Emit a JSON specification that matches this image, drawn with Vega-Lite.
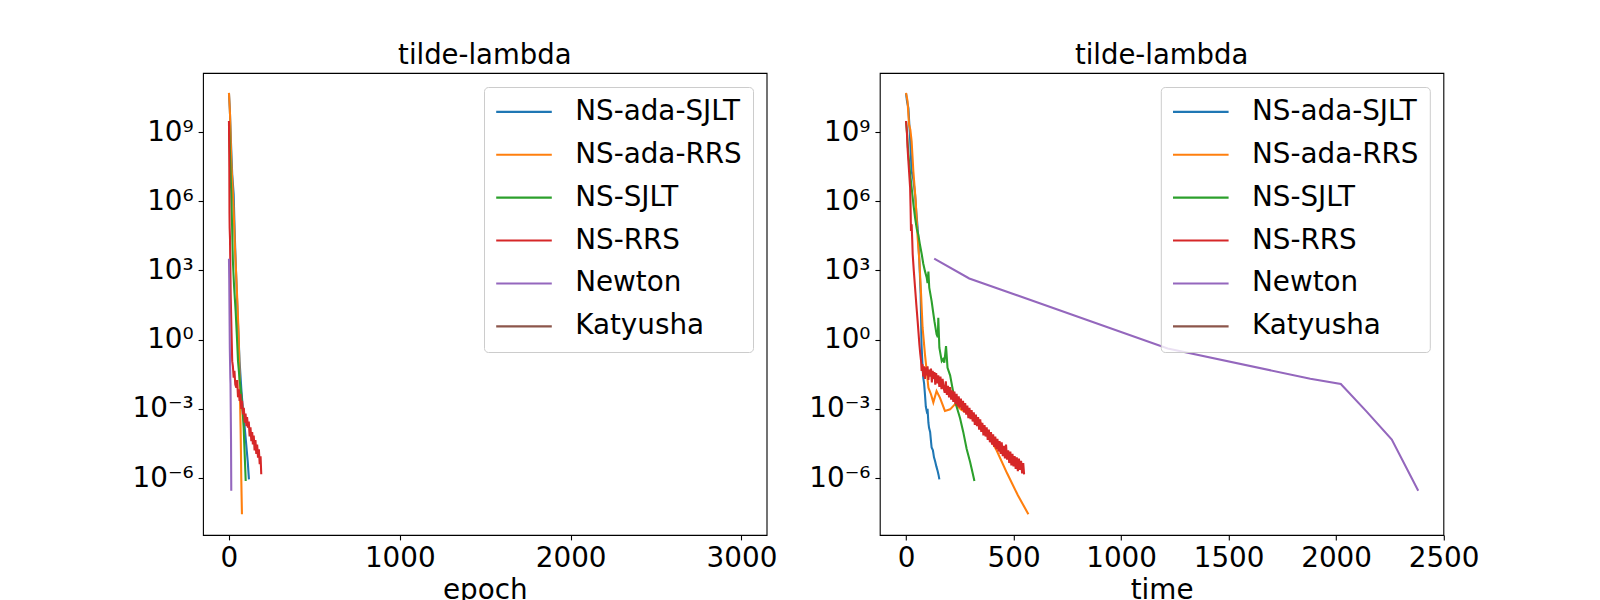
{
  "$schema": "https://vega.github.io/schema/vega-lite/v6.json",
  "padding": {"left": 131, "top": 41, "right": 0, "bottom": 0},
  "background": "white",
  "bounds": "flush",
  "spacing": 112.8,
  "config": {
    "font": "DejaVu Sans",
    "view": {"stroke": "black", "strokeWidth": 1.1},
    "axis": {
      "labelFont": "DejaVu Sans", "labelFontSize": 27.8, "labelColor": "black",
      "tickColor": "black", "tickSize": 4.9, "tickWidth": 1.1, "labelPadding": 4.9,
      "domain": false, "grid": false, "labelOverlap": false, "labelFlush": false,
      "titleFont": "DejaVu Sans", "titleFontSize": 27.8, "titleFontWeight": "normal", "titleColor": "black", "titlePadding": 4
    },
    "title": {"font": "DejaVu Sans", "fontSize": 27.5, "fontWeight": "normal", "color": "black", "offset": 3.3, "anchor": "middle"},
    "legend": {
      "orient": "top-right", "offset": 13.9, "labelFont": "DejaVu Sans", "labelFontSize": 27.8, "labelColor": "black",
      "symbolType": "stroke", "symbolSize": 3091, "symbolStrokeWidth": 2.08, "labelOffset": 22.2, "rowPadding": 13.9, "clipHeight": 27.7,
      "padding": 11, "fillColor": "rgba(255,255,255,0.8)", "strokeColor": "#cccccc", "cornerRadius": 4, "labelLimit": 400
    }
  },
  "datasets": {
    "epoch": [
      {"m":"NS-ada-SJLT","x":0,"y":4.79e10},{"m":"NS-ada-SJLT","x":5,"y":1e10},{"m":"NS-ada-SJLT","x":12,"y":3.16e8},{"m":"NS-ada-SJLT","x":19,"y":1.48e7},{"m":"NS-ada-SJLT","x":27.5,"y":2.0e6},{"m":"NS-ada-SJLT","x":33,"y":6.31e4},{"m":"NS-ada-SJLT","x":39,"y":2570},{"m":"NS-ada-SJLT","x":50,"y":15.8},{"m":"NS-ada-SJLT","x":62,"y":0.117},{"m":"NS-ada-SJLT","x":72,"y":0.00794},{"m":"NS-ada-SJLT","x":82,"y":8.13e-4},{"m":"NS-ada-SJLT","x":92,"y":1.58e-4},{"m":"NS-ada-SJLT","x":101,"y":2.88e-5},{"m":"NS-ada-SJLT","x":110,"y":5.01e-6},{"m":"NS-ada-SJLT","x":117,"y":8.71e-7},
      {"m":"NS-ada-RRS","x":0,"y":5.01e10},{"m":"NS-ada-RRS","x":6,"y":6.31e9},{"m":"NS-ada-RRS","x":13.6,"y":5.5e7},{"m":"NS-ada-RRS","x":20,"y":6.31e6},{"m":"NS-ada-RRS","x":27.5,"y":3.8e5},{"m":"NS-ada-RRS","x":35,"y":1e4},{"m":"NS-ada-RRS","x":43,"y":490},{"m":"NS-ada-RRS","x":50,"y":31.6},{"m":"NS-ada-RRS","x":55,"y":3.31},{"m":"NS-ada-RRS","x":60,"y":0.158},{"m":"NS-ada-RRS","x":62,"y":0.0224},{"m":"NS-ada-RRS","x":65,"y":0.002},{"m":"NS-ada-RRS","x":68,"y":1.51e-4},{"m":"NS-ada-RRS","x":70,"y":1.58e-5},{"m":"NS-ada-RRS","x":72,"y":1.02e-6},{"m":"NS-ada-RRS","x":74,"y":1.58e-7},{"m":"NS-ada-RRS","x":76,"y":2.69e-8},
      {"m":"NS-SJLT","x":0,"y":3.02e9},{"m":"NS-SJLT","x":7,"y":6.31e7},{"m":"NS-SJLT","x":13.6,"y":2.0e6},{"m":"NS-SJLT","x":18,"y":1e5},{"m":"NS-SJLT","x":23,"y":2570},{"m":"NS-SJLT","x":30,"y":200},{"m":"NS-SJLT","x":39,"y":17.4},{"m":"NS-SJLT","x":46,"y":1.58},{"m":"NS-SJLT","x":53,"y":0.117},{"m":"NS-SJLT","x":62,"y":0.02},{"m":"NS-SJLT","x":72,"y":0.00427},{"m":"NS-SJLT","x":80,"y":7.94e-4},{"m":"NS-SJLT","x":86,"y":1.51e-4},{"m":"NS-SJLT","x":92,"y":1.07e-5},{"m":"NS-SJLT","x":98,"y":7.41e-7},
      {"m":"NS-RRS","x":0,"y":3.02e9},{"m":"NS-RRS","x":2,"y":3.16e7},{"m":"NS-RRS","x":3,"y":3.16e5},{"m":"NS-RRS","x":4,"y":7.08e4},{"m":"NS-RRS","x":6,"y":2.51e4},{"m":"NS-RRS","x":10,"y":91.2},{"m":"NS-RRS","x":15,"y":2.0},{"m":"NS-RRS","x":19,"y":0.117},{"m":"NS-RRS","x":23,"y":0.0701},{"m":"NS-RRS","x":27.5,"y":0.0224},{"m":"NS-RRS","x":32,"y":0.0442},{"m":"NS-RRS","x":37,"y":0.0112},{"m":"NS-RRS","x":43,"y":0.00832},{"m":"NS-RRS","x":48,"y":0.0176},{"m":"NS-RRS","x":53,"y":0.00316},{"m":"NS-RRS","x":58,"y":0.00701},{"m":"NS-RRS","x":62,"y":0.00219},{"m":"NS-RRS","x":67,"y":0.00442},{"m":"NS-RRS","x":72,"y":0.001},{"m":"NS-RRS","x":77,"y":0.00221},{"m":"NS-RRS","x":82,"y":5.75e-4},{"m":"NS-RRS","x":87,"y":0.00111},{"m":"NS-RRS","x":92,"y":2.51e-4},{"m":"NS-RRS","x":97,"y":6.26e-4},{"m":"NS-RRS","x":102,"y":1.78e-4},{"m":"NS-RRS","x":106,"y":4.42e-4},{"m":"NS-RRS","x":111,"y":1.51e-4},{"m":"NS-RRS","x":116,"y":2.8e-4},{"m":"NS-RRS","x":121,"y":6.31e-5},{"m":"NS-RRS","x":126,"y":1.57e-4},{"m":"NS-RRS","x":131,"y":3.98e-5},{"m":"NS-RRS","x":136,"y":9.91e-5},{"m":"NS-RRS","x":140,"y":2.88e-5},{"m":"NS-RRS","x":145,"y":7.01e-5},{"m":"NS-RRS","x":150,"y":1.58e-5},{"m":"NS-RRS","x":155,"y":4.42e-5},{"m":"NS-RRS","x":160,"y":1.12e-5},{"m":"NS-RRS","x":165,"y":2.8e-5},{"m":"NS-RRS","x":170,"y":7.59e-6},{"m":"NS-RRS","x":175,"y":1.76e-5},{"m":"NS-RRS","x":180,"y":3.98e-6},{"m":"NS-RRS","x":185,"y":8.83e-6},{"m":"NS-RRS","x":189,"y":1.45e-6},
      {"m":"Newton","x":0,"y":3240},{"m":"Newton","x":1.5,"y":447},{"m":"Newton","x":5,"y":0.417},{"m":"Newton","x":8,"y":0.02},{"m":"Newton","x":9,"y":0.012},{"m":"Newton","x":10.5,"y":7.94e-4},{"m":"Newton","x":12,"y":4.68e-5},{"m":"Newton","x":13.5,"y":2.82e-7}
    ],
    "time": [
      {"m":"NS-ada-SJLT","x":0,"y":4.79e10},{"m":"NS-ada-SJLT","x":5,"y":2.0e10},{"m":"NS-ada-SJLT","x":11,"y":1.12e10},{"m":"NS-ada-SJLT","x":18,"y":7.94e8},{"m":"NS-ada-SJLT","x":26,"y":2.04e7},{"m":"NS-ada-SJLT","x":33,"y":1.0e7},{"m":"NS-ada-SJLT","x":42,"y":2.0e6},{"m":"NS-ada-SJLT","x":48,"y":3.16e5},{"m":"NS-ada-SJLT","x":54,"y":7.08e4},{"m":"NS-ada-SJLT","x":58,"y":1.26e4},{"m":"NS-ada-SJLT","x":62,"y":2570},{"m":"NS-ada-SJLT","x":68,"y":91.2},{"m":"NS-ada-SJLT","x":72,"y":0.631},{"m":"NS-ada-SJLT","x":76,"y":0.1},{"m":"NS-ada-SJLT","x":80,"y":0.0224},{"m":"NS-ada-SJLT","x":84,"y":0.0126},{"m":"NS-ada-SJLT","x":88,"y":0.00427},{"m":"NS-ada-SJLT","x":92,"y":0.00126},{"m":"NS-ada-SJLT","x":96,"y":8.1e-4},{"m":"NS-ada-SJLT","x":100,"y":1.0e-3},{"m":"NS-ada-SJLT","x":104,"y":2.5e-4},{"m":"NS-ada-SJLT","x":107,"y":1.5e-4},{"m":"NS-ada-SJLT","x":112,"y":1.0e-4},{"m":"NS-ada-SJLT","x":116,"y":4.0e-5},{"m":"NS-ada-SJLT","x":119,"y":2.1e-5},{"m":"NS-ada-SJLT","x":125,"y":1.6e-5},{"m":"NS-ada-SJLT","x":130,"y":7.9e-6},{"m":"NS-ada-SJLT","x":135,"y":5.5e-6},{"m":"NS-ada-SJLT","x":141,"y":3.2e-6},{"m":"NS-ada-SJLT","x":147,"y":2.0e-6},{"m":"NS-ada-SJLT","x":151,"y":1.4e-6},{"m":"NS-ada-SJLT","x":155,"y":8.7e-7},
      {"m":"NS-ada-RRS","x":0,"y":5.01e10},{"m":"NS-ada-RRS","x":7,"y":2.2e10},{"m":"NS-ada-RRS","x":14,"y":2.1e9},{"m":"NS-ada-RRS","x":20,"y":1.26e9},{"m":"NS-ada-RRS","x":26,"y":4.0e8},{"m":"NS-ada-RRS","x":34,"y":2.0e7},{"m":"NS-ada-RRS","x":45,"y":1.0e6},{"m":"NS-ada-RRS","x":54,"y":2.6e4},{"m":"NS-ada-RRS","x":62,"y":2600},{"m":"NS-ada-RRS","x":70,"y":91},{"m":"NS-ada-RRS","x":77,"y":3.3},{"m":"NS-ada-RRS","x":82,"y":1.0},{"m":"NS-ada-RRS","x":88,"y":0.23},{"m":"NS-ada-RRS","x":96,"y":0.044},{"m":"NS-ada-RRS","x":104,"y":0.0083},{"m":"NS-ada-RRS","x":116,"y":0.0043},{"m":"NS-ada-RRS","x":127,"y":0.0019},{"m":"NS-ada-RRS","x":142,"y":0.0059},{"m":"NS-ada-RRS","x":158,"y":0.003},{"m":"NS-ada-RRS","x":181,"y":8.1e-4},{"m":"NS-ada-RRS","x":205,"y":9.5e-4},{"m":"NS-ada-RRS","x":228,"y":1.6e-3},{"m":"NS-ada-RRS","x":258,"y":8.9e-4},{"m":"NS-ada-RRS","x":290,"y":6.3e-4},{"m":"NS-ada-RRS","x":336,"y":3.5e-4},{"m":"NS-ada-RRS","x":380,"y":7.9e-5},{"m":"NS-ada-RRS","x":421,"y":1.6e-5},{"m":"NS-ada-RRS","x":470,"y":1.6e-6},{"m":"NS-ada-RRS","x":520,"y":1.8e-7},{"m":"NS-ada-RRS","x":569,"y":2.7e-8},
      {"m":"NS-SJLT","x":0,"y":3.02e9},{"m":"NS-SJLT","x":5,"y":7.94e8},{"m":"NS-SJLT","x":11,"y":1.07e8},{"m":"NS-SJLT","x":18,"y":2.0e7},{"m":"NS-SJLT","x":26,"y":3.89e6},{"m":"NS-SJLT","x":34,"y":7.94e5},{"m":"NS-SJLT","x":42,"y":1.95e5},{"m":"NS-SJLT","x":50,"y":6.31e4},{"m":"NS-SJLT","x":57,"y":3.63e4},{"m":"NS-SJLT","x":65,"y":1.26e4},{"m":"NS-SJLT","x":73,"y":5010},{"m":"NS-SJLT","x":80,"y":2000},{"m":"NS-SJLT","x":88,"y":933},{"m":"NS-SJLT","x":96,"y":501},{"m":"NS-SJLT","x":100,"y":282},{"m":"NS-SJLT","x":104,"y":891},{"m":"NS-SJLT","x":108,"y":178},{"m":"NS-SJLT","x":119,"y":46.8},{"m":"NS-SJLT","x":126,"y":15.8},{"m":"NS-SJLT","x":132,"y":6.31},{"m":"NS-SJLT","x":142,"y":1.7},{"m":"NS-SJLT","x":148,"y":1.26},{"m":"NS-SJLT","x":150,"y":8.91},{"m":"NS-SJLT","x":155,"y":0.447},{"m":"NS-SJLT","x":166,"y":0.117},{"m":"NS-SJLT","x":172,"y":0.141},{"m":"NS-SJLT","x":178,"y":0.1},{"m":"NS-SJLT","x":186,"y":0.525},{"m":"NS-SJLT","x":193,"y":0.0603},{"m":"NS-SJLT","x":205,"y":0.0282},{"m":"NS-SJLT","x":220,"y":0.005},{"m":"NS-SJLT","x":235,"y":0.00126},{"m":"NS-SJLT","x":251,"y":4.0e-4},{"m":"NS-SJLT","x":266,"y":1.0e-4},{"m":"NS-SJLT","x":282,"y":1.8e-5},{"m":"NS-SJLT","x":298,"y":5.0e-6},{"m":"NS-SJLT","x":310,"y":1.6e-6},{"m":"NS-SJLT","x":318,"y":7.4e-7},
      {"m":"NS-RRS","x":0,"y":3.02e9},{"m":"NS-RRS","x":4,"y":1e9},{"m":"NS-RRS","x":7,"y":2.09e8},{"m":"NS-RRS","x":12,"y":3.98e7},{"m":"NS-RRS","x":19,"y":3.89e6},{"m":"NS-RRS","x":21,"y":6.31e5},{"m":"NS-RRS","x":23,"y":5.13e4},{"m":"NS-RRS","x":26,"y":1e5},{"m":"NS-RRS","x":29,"y":1.91e4},{"m":"NS-RRS","x":31,"y":5010},{"m":"NS-RRS","x":36,"y":1000},{"m":"NS-RRS","x":42,"y":178},{"m":"NS-RRS","x":48,"y":31.6},{"m":"NS-RRS","x":54,"y":6.31},{"m":"NS-RRS","x":58,"y":2.0},{"m":"NS-RRS","x":62,"y":0.631},{"m":"NS-RRS","x":66,"y":0.251},{"m":"NS-RRS","x":70,"y":0.117},{"m":"NS-RRS","x":72.5,"y":0.0437},
      {"m":"NS-RRS","x":76,"y":0.0883},{"m":"NS-RRS","x":80,"y":0.0251},{"m":"NS-RRS","x":84,"y":0.0701},{"m":"NS-RRS","x":88,"y":0.02},{"m":"NS-RRS","x":92,"y":0.0626},{"m":"NS-RRS","x":96,"y":0.0282},{"m":"NS-RRS","x":100,"y":0.0701},{"m":"NS-RRS","x":104,"y":0.0178},{"m":"NS-RRS","x":108,"y":0.0497},{"m":"NS-RRS","x":112,"y":0.0251},{"m":"NS-RRS","x":116,"y":0.0557},{"m":"NS-RRS","x":120,"y":0.0141},{"m":"NS-RRS","x":124,"y":0.0442},{"m":"NS-RRS","x":128,"y":0.02},{"m":"NS-RRS","x":132,"y":0.0395},{"m":"NS-RRS","x":136,"y":0.0112},{"m":"NS-RRS","x":140,"y":0.0351},{"m":"NS-RRS","x":145,"y":0.0126},{"m":"NS-RRS","x":150,"y":0.028},{"m":"NS-RRS","x":155,"y":0.00891},{"m":"NS-RRS","x":160,"y":0.0249},{"m":"NS-RRS","x":165,"y":0.00708},{"m":"NS-RRS","x":170,"y":0.0197},{"m":"NS-RRS","x":175,"y":0.00794},{"m":"NS-RRS","x":180,"y":0.00501},{"m":"NS-RRS","x":185,"y":0.0157},{"m":"NS-RRS","x":190,"y":0.00398},{"m":"NS-RRS","x":195,"y":0.00991},{"m":"NS-RRS","x":200,"y":0.00316},{"m":"NS-RRS","x":205,"y":0.00883},{"m":"NS-RRS","x":210,"y":0.00251},{"m":"NS-RRS","x":215,"y":0.00626},{"m":"NS-RRS","x":220,"y":0.002},{"m":"NS-RRS","x":225,"y":0.00557},{"m":"NS-RRS","x":230,"y":0.00158},{"m":"NS-RRS","x":235,"y":0.00442},{"m":"NS-RRS","x":240,"y":0.00126},{"m":"NS-RRS","x":245,"y":0.00351},{"m":"NS-RRS","x":250,"y":0.00112},{"m":"NS-RRS","x":255,"y":0.0028},{"m":"NS-RRS","x":260,"y":8.91e-4},{"m":"NS-RRS","x":265,"y":0.00221},{"m":"NS-RRS","x":270,"y":7.08e-4},{"m":"NS-RRS","x":275,"y":0.00176},{"m":"NS-RRS","x":280,"y":5.62e-4},{"m":"NS-RRS","x":285,"y":0.0014},{"m":"NS-RRS","x":290,"y":3.98e-4},{"m":"NS-RRS","x":295,"y":0.00111},{"m":"NS-RRS","x":300,"y":3.55e-4},{"m":"NS-RRS","x":305,"y":8.83e-4},{"m":"NS-RRS","x":310,"y":2.82e-4},{"m":"NS-RRS","x":315,"y":7.01e-4},{"m":"NS-RRS","x":320,"y":2.0e-4},{"m":"NS-RRS","x":325,"y":5.57e-4},{"m":"NS-RRS","x":330,"y":1.78e-4},{"m":"NS-RRS","x":335,"y":4.42e-4},{"m":"NS-RRS","x":340,"y":1.26e-4},{"m":"NS-RRS","x":345,"y":3.51e-4},{"m":"NS-RRS","x":350,"y":1.0e-4},{"m":"NS-RRS","x":355,"y":2.49e-4},{"m":"NS-RRS","x":360,"y":7.08e-5},{"m":"NS-RRS","x":365,"y":1.97e-4},{"m":"NS-RRS","x":370,"y":6.31e-5},{"m":"NS-RRS","x":375,"y":1.57e-4},{"m":"NS-RRS","x":380,"y":4.47e-5},{"m":"NS-RRS","x":385,"y":1.25e-4},{"m":"NS-RRS","x":390,"y":3.55e-5},{"m":"NS-RRS","x":395,"y":9.91e-5},{"m":"NS-RRS","x":400,"y":2.82e-5},{"m":"NS-RRS","x":405,"y":7.87e-5},{"m":"NS-RRS","x":410,"y":2.24e-5},{"m":"NS-RRS","x":415,"y":6.26e-5},{"m":"NS-RRS","x":420,"y":1.78e-5},{"m":"NS-RRS","x":425,"y":4.97e-5},{"m":"NS-RRS","x":430,"y":1.41e-5},{"m":"NS-RRS","x":435,"y":3.95e-5},{"m":"NS-RRS","x":440,"y":1.12e-5},{"m":"NS-RRS","x":445,"y":3.51e-5},{"m":"NS-RRS","x":450,"y":8.91e-6},{"m":"NS-RRS","x":455,"y":2.49e-5},{"m":"NS-RRS","x":460,"y":7.08e-6},{"m":"NS-RRS","x":465,"y":2.8e-5},{"m":"NS-RRS","x":470,"y":6.31e-6},{"m":"NS-RRS","x":475,"y":1.57e-5},{"m":"NS-RRS","x":480,"y":4.47e-6},{"m":"NS-RRS","x":485,"y":1.4e-5},{"m":"NS-RRS","x":490,"y":3.55e-6},{"m":"NS-RRS","x":495,"y":1.11e-5},{"m":"NS-RRS","x":500,"y":3.16e-6},{"m":"NS-RRS","x":505,"y":8.83e-6},{"m":"NS-RRS","x":510,"y":2.51e-6},{"m":"NS-RRS","x":515,"y":7.87e-6},{"m":"NS-RRS","x":520,"y":2.0e-6},{"m":"NS-RRS","x":525,"y":7.01e-6},{"m":"NS-RRS","x":530,"y":2.24e-6},{"m":"NS-RRS","x":535,"y":5.57e-6},{"m":"NS-RRS","x":540,"y":1.58e-6},{"m":"NS-RRS","x":545,"y":4.42e-6},{"m":"NS-RRS","x":549,"y":1.45e-6},
      {"m":"Newton","x":131,"y":3240},{"m":"Newton","x":294,"y":447},{"m":"Newton","x":1217,"y":0.417},{"m":"Newton","x":1880,"y":0.02},{"m":"Newton","x":2022,"y":0.012},{"m":"Newton","x":2140,"y":7.94e-4},{"m":"Newton","x":2259,"y":4.68e-5},{"m":"Newton","x":2382,"y":2.82e-7}
    ]
  },
  "hconcat": [
    {
      "title": "tilde-lambda",
      "data": {"name": "epoch"},
      "width": 563.6,
      "height": 462,
      "mark": {"type": "line", "strokeWidth": 2.08, "clip": true},
      "encoding": {
        "x": {"field": "x", "type": "quantitative", "scale": {"domain": [-152, 3147], "nice": false, "zero": false}, "axis": {"title": "epoch", "values": [0, 1000, 2000, 3000], "format": "d"}},
        "y": {"field": "y", "type": "quantitative", "scale": {"type": "log", "domain": [3.39e-9, 3.63e11], "nice": false}, "axis": {"title": null, "values": [1e-6, 1e-3, 1, 1e3, 1e6, 1e9], "labelExpr": "datum.value >= 1e8 ? '10⁹' : datum.value >= 1e5 ? '10⁶' : datum.value >= 100 ? '10³' : datum.value >= 0.1 ? '10⁰' : datum.value >= 1e-4 ? '10⁻³' : '10⁻⁶'"}},
        "color": {"field": "m", "type": "nominal", "scale": {"domain": ["NS-ada-SJLT", "NS-ada-RRS", "NS-SJLT", "NS-RRS", "Newton", "Katyusha"], "range": ["#1f77b4", "#ff7f0e", "#2ca02c", "#d62728", "#9467bd", "#8c564b"]}, "legend": {"title": null}}
      }
    },
    {
      "title": "tilde-lambda",
      "data": {"name": "time"},
      "width": 563.6,
      "height": 462,
      "mark": {"type": "line", "strokeWidth": 2.08, "clip": true},
      "encoding": {
        "x": {"field": "x", "type": "quantitative", "scale": {"domain": [-122, 2499], "nice": false, "zero": false}, "axis": {"title": "time", "values": [0, 500, 1000, 1500, 2000, 2500], "format": "d"}},
        "y": {"field": "y", "type": "quantitative", "scale": {"type": "log", "domain": [3.39e-9, 3.63e11], "nice": false}, "axis": {"title": null, "values": [1e-6, 1e-3, 1, 1e3, 1e6, 1e9], "labelExpr": "datum.value >= 1e8 ? '10⁹' : datum.value >= 1e5 ? '10⁶' : datum.value >= 100 ? '10³' : datum.value >= 0.1 ? '10⁰' : datum.value >= 1e-4 ? '10⁻³' : '10⁻⁶'"}},
        "color": {"field": "m", "type": "nominal", "scale": {"domain": ["NS-ada-SJLT", "NS-ada-RRS", "NS-SJLT", "NS-RRS", "Newton", "Katyusha"], "range": ["#1f77b4", "#ff7f0e", "#2ca02c", "#d62728", "#9467bd", "#8c564b"]}, "legend": {"title": null}}
      }
    }
  ],
  "resolve": {"scale": {"color": "independent", "x": "independent", "y": "independent"}, "legend": {"color": "independent"}}
}
